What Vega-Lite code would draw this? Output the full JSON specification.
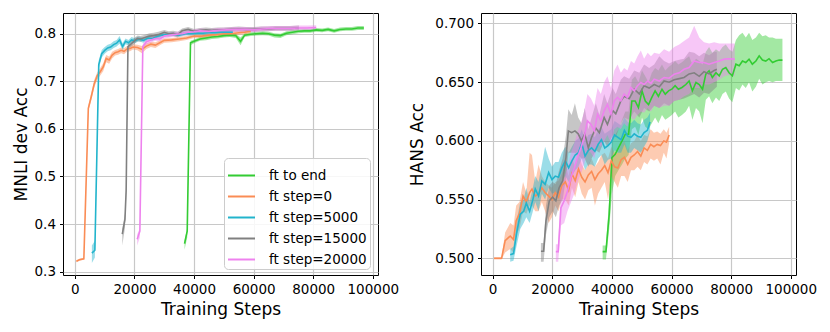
{
"$schema": "https://vega.github.io/schema/vega-lite/v6.json",
"padding": {"left": 11, "top": 12, "right": 5, "bottom": 5},
"config": {
  "font": "DejaVu Sans",
  "view": {"stroke": "black", "strokeWidth": 1},
  "axis": {"grid": true, "gridColor": "#c8c8c8", "gridWidth": 1.2, "domain": false, "tickColor": "black", "tickSize": 3.5, "tickWidth": 1, "labelFontSize": 13.5, "labelColor": "black", "labelPadding": 4, "titleFontSize": 17, "titleFontWeight": "normal", "titleColor": "black", "labelFlush": false, "labelOverlap": false}
},
"bounds": "flush",
"spacing": 103,
"datasets": {
"mnli": [
{"s":"ft to end","x":36800,"y":0.359,"lo":0.346,"hi":0.366},
{"s":"ft to end","x":37700,"y":0.385,"lo":0.372,"hi":0.392},
{"s":"ft to end","x":38800,"y":0.781,"lo":0.776,"hi":0.785},
{"s":"ft to end","x":40000,"y":0.784,"lo":0.780,"hi":0.788},
{"s":"ft to end","x":42000,"y":0.789,"lo":0.785,"hi":0.793},
{"s":"ft to end","x":44000,"y":0.791,"lo":0.786,"hi":0.795},
{"s":"ft to end","x":46000,"y":0.793,"lo":0.789,"hi":0.797},
{"s":"ft to end","x":48000,"y":0.794,"lo":0.790,"hi":0.798},
{"s":"ft to end","x":50000,"y":0.796,"lo":0.792,"hi":0.800},
{"s":"ft to end","x":52000,"y":0.797,"lo":0.793,"hi":0.801},
{"s":"ft to end","x":54000,"y":0.796,"lo":0.791,"hi":0.800},
{"s":"ft to end","x":55600,"y":0.784,"lo":0.776,"hi":0.792},
{"s":"ft to end","x":57000,"y":0.797,"lo":0.793,"hi":0.801},
{"s":"ft to end","x":59000,"y":0.799,"lo":0.795,"hi":0.803},
{"s":"ft to end","x":61000,"y":0.800,"lo":0.796,"hi":0.804},
{"s":"ft to end","x":63000,"y":0.801,"lo":0.797,"hi":0.805},
{"s":"ft to end","x":65000,"y":0.800,"lo":0.796,"hi":0.804},
{"s":"ft to end","x":67000,"y":0.797,"lo":0.792,"hi":0.801},
{"s":"ft to end","x":69000,"y":0.796,"lo":0.791,"hi":0.800},
{"s":"ft to end","x":71000,"y":0.801,"lo":0.797,"hi":0.805},
{"s":"ft to end","x":73000,"y":0.803,"lo":0.799,"hi":0.807},
{"s":"ft to end","x":75000,"y":0.805,"lo":0.801,"hi":0.809},
{"s":"ft to end","x":77000,"y":0.806,"lo":0.802,"hi":0.810},
{"s":"ft to end","x":79000,"y":0.806,"lo":0.802,"hi":0.810},
{"s":"ft to end","x":81000,"y":0.808,"lo":0.804,"hi":0.812},
{"s":"ft to end","x":83000,"y":0.807,"lo":0.803,"hi":0.811},
{"s":"ft to end","x":85000,"y":0.809,"lo":0.805,"hi":0.813},
{"s":"ft to end","x":87000,"y":0.806,"lo":0.802,"hi":0.810},
{"s":"ft to end","x":89000,"y":0.809,"lo":0.805,"hi":0.813},
{"s":"ft to end","x":91000,"y":0.810,"lo":0.806,"hi":0.814},
{"s":"ft to end","x":93000,"y":0.810,"lo":0.806,"hi":0.814},
{"s":"ft to end","x":95000,"y":0.812,"lo":0.808,"hi":0.816},
{"s":"ft to end","x":97000,"y":0.812,"lo":0.808,"hi":0.816},
{"s":"ft step=0","x":500,"y":0.322,"lo":0.320,"hi":0.324},
{"s":"ft step=0","x":1500,"y":0.325,"lo":0.323,"hi":0.327},
{"s":"ft step=0","x":3000,"y":0.327,"lo":0.325,"hi":0.329},
{"s":"ft step=0","x":4500,"y":0.643,"lo":0.637,"hi":0.649},
{"s":"ft step=0","x":5500,"y":0.668,"lo":0.660,"hi":0.676},
{"s":"ft step=0","x":6500,"y":0.695,"lo":0.687,"hi":0.703},
{"s":"ft step=0","x":7500,"y":0.712,"lo":0.704,"hi":0.719},
{"s":"ft step=0","x":8500,"y":0.720,"lo":0.712,"hi":0.728},
{"s":"ft step=0","x":9500,"y":0.730,"lo":0.721,"hi":0.738},
{"s":"ft step=0","x":10500,"y":0.748,"lo":0.740,"hi":0.755},
{"s":"ft step=0","x":11500,"y":0.745,"lo":0.737,"hi":0.752},
{"s":"ft step=0","x":12500,"y":0.755,"lo":0.748,"hi":0.762},
{"s":"ft step=0","x":13500,"y":0.760,"lo":0.754,"hi":0.766},
{"s":"ft step=0","x":14500,"y":0.762,"lo":0.756,"hi":0.768},
{"s":"ft step=0","x":15500,"y":0.765,"lo":0.759,"hi":0.771},
{"s":"ft step=0","x":16500,"y":0.763,"lo":0.757,"hi":0.770},
{"s":"ft step=0","x":17500,"y":0.768,"lo":0.762,"hi":0.774},
{"s":"ft step=0","x":18500,"y":0.769,"lo":0.763,"hi":0.775},
{"s":"ft step=0","x":19500,"y":0.772,"lo":0.767,"hi":0.778},
{"s":"ft step=0","x":21000,"y":0.771,"lo":0.765,"hi":0.777},
{"s":"ft step=0","x":22500,"y":0.767,"lo":0.759,"hi":0.774},
{"s":"ft step=0","x":24000,"y":0.774,"lo":0.768,"hi":0.780},
{"s":"ft step=0","x":25500,"y":0.778,"lo":0.772,"hi":0.783},
{"s":"ft step=0","x":27000,"y":0.776,"lo":0.770,"hi":0.782},
{"s":"ft step=0","x":28500,"y":0.781,"lo":0.776,"hi":0.786},
{"s":"ft step=0","x":30000,"y":0.786,"lo":0.781,"hi":0.790},
{"s":"ft step=0","x":32500,"y":0.787,"lo":0.782,"hi":0.791},
{"s":"ft step=0","x":35000,"y":0.789,"lo":0.784,"hi":0.793},
{"s":"ft step=0","x":37500,"y":0.791,"lo":0.787,"hi":0.795},
{"s":"ft step=0","x":40000,"y":0.795,"lo":0.791,"hi":0.799},
{"s":"ft step=0","x":42500,"y":0.795,"lo":0.791,"hi":0.799},
{"s":"ft step=0","x":45000,"y":0.797,"lo":0.793,"hi":0.801},
{"s":"ft step=0","x":47500,"y":0.798,"lo":0.794,"hi":0.802},
{"s":"ft step=0","x":50000,"y":0.800,"lo":0.796,"hi":0.804},
{"s":"ft step=0","x":52500,"y":0.800,"lo":0.796,"hi":0.804},
{"s":"ft step=0","x":55000,"y":0.802,"lo":0.798,"hi":0.806},
{"s":"ft step=0","x":57000,"y":0.803,"lo":0.799,"hi":0.807},
{"s":"ft step=0","x":59000,"y":0.805,"lo":0.801,"hi":0.809},
{"s":"ft step=5000","x":5700,"y":0.339,"lo":0.318,"hi":0.355},
{"s":"ft step=5000","x":6700,"y":0.345,"lo":0.330,"hi":0.365},
{"s":"ft step=5000","x":8000,"y":0.735,"lo":0.726,"hi":0.744},
{"s":"ft step=5000","x":9000,"y":0.758,"lo":0.750,"hi":0.766},
{"s":"ft step=5000","x":10000,"y":0.765,"lo":0.758,"hi":0.772},
{"s":"ft step=5000","x":11000,"y":0.770,"lo":0.763,"hi":0.777},
{"s":"ft step=5000","x":12000,"y":0.772,"lo":0.765,"hi":0.779},
{"s":"ft step=5000","x":13000,"y":0.777,"lo":0.770,"hi":0.784},
{"s":"ft step=5000","x":14000,"y":0.780,"lo":0.773,"hi":0.787},
{"s":"ft step=5000","x":15000,"y":0.787,"lo":0.779,"hi":0.795},
{"s":"ft step=5000","x":16000,"y":0.773,"lo":0.766,"hi":0.780},
{"s":"ft step=5000","x":17000,"y":0.784,"lo":0.778,"hi":0.790},
{"s":"ft step=5000","x":18000,"y":0.781,"lo":0.775,"hi":0.787},
{"s":"ft step=5000","x":19000,"y":0.787,"lo":0.781,"hi":0.793},
{"s":"ft step=5000","x":20000,"y":0.785,"lo":0.780,"hi":0.791},
{"s":"ft step=5000","x":21500,"y":0.789,"lo":0.784,"hi":0.794},
{"s":"ft step=5000","x":23000,"y":0.786,"lo":0.781,"hi":0.791},
{"s":"ft step=5000","x":24500,"y":0.791,"lo":0.786,"hi":0.796},
{"s":"ft step=5000","x":26000,"y":0.790,"lo":0.785,"hi":0.795},
{"s":"ft step=5000","x":27500,"y":0.794,"lo":0.789,"hi":0.799},
{"s":"ft step=5000","x":29000,"y":0.797,"lo":0.792,"hi":0.801},
{"s":"ft step=5000","x":31000,"y":0.798,"lo":0.794,"hi":0.802},
{"s":"ft step=5000","x":33000,"y":0.799,"lo":0.795,"hi":0.803},
{"s":"ft step=5000","x":35000,"y":0.797,"lo":0.793,"hi":0.801},
{"s":"ft step=5000","x":37000,"y":0.800,"lo":0.796,"hi":0.804},
{"s":"ft step=5000","x":39000,"y":0.800,"lo":0.796,"hi":0.804},
{"s":"ft step=5000","x":41000,"y":0.801,"lo":0.797,"hi":0.805},
{"s":"ft step=5000","x":43000,"y":0.801,"lo":0.797,"hi":0.805},
{"s":"ft step=5000","x":45000,"y":0.802,"lo":0.798,"hi":0.806},
{"s":"ft step=5000","x":47000,"y":0.802,"lo":0.798,"hi":0.806},
{"s":"ft step=5000","x":49000,"y":0.803,"lo":0.799,"hi":0.807},
{"s":"ft step=5000","x":51000,"y":0.803,"lo":0.799,"hi":0.807},
{"s":"ft step=5000","x":53000,"y":0.803,"lo":0.799,"hi":0.807},
{"s":"ft step=15000","x":15900,"y":0.379,"lo":0.355,"hi":0.390},
{"s":"ft step=15000","x":16800,"y":0.410,"lo":0.392,"hi":0.422},
{"s":"ft step=15000","x":17200,"y":0.470,"lo":0.455,"hi":0.485},
{"s":"ft step=15000","x":17800,"y":0.773,"lo":0.767,"hi":0.779},
{"s":"ft step=15000","x":19000,"y":0.779,"lo":0.773,"hi":0.785},
{"s":"ft step=15000","x":20000,"y":0.785,"lo":0.779,"hi":0.791},
{"s":"ft step=15000","x":21000,"y":0.790,"lo":0.784,"hi":0.796},
{"s":"ft step=15000","x":22000,"y":0.789,"lo":0.783,"hi":0.795},
{"s":"ft step=15000","x":23500,"y":0.792,"lo":0.786,"hi":0.798},
{"s":"ft step=15000","x":25000,"y":0.795,"lo":0.789,"hi":0.801},
{"s":"ft step=15000","x":26500,"y":0.796,"lo":0.790,"hi":0.802},
{"s":"ft step=15000","x":28000,"y":0.798,"lo":0.792,"hi":0.804},
{"s":"ft step=15000","x":30000,"y":0.803,"lo":0.797,"hi":0.808},
{"s":"ft step=15000","x":31500,"y":0.800,"lo":0.794,"hi":0.805},
{"s":"ft step=15000","x":33000,"y":0.801,"lo":0.795,"hi":0.806},
{"s":"ft step=15000","x":34500,"y":0.798,"lo":0.792,"hi":0.804},
{"s":"ft step=15000","x":36000,"y":0.806,"lo":0.801,"hi":0.811},
{"s":"ft step=15000","x":38000,"y":0.809,"lo":0.804,"hi":0.814},
{"s":"ft step=15000","x":40000,"y":0.805,"lo":0.800,"hi":0.810},
{"s":"ft step=15000","x":42000,"y":0.807,"lo":0.802,"hi":0.812},
{"s":"ft step=15000","x":44000,"y":0.808,"lo":0.803,"hi":0.813},
{"s":"ft step=15000","x":46000,"y":0.807,"lo":0.802,"hi":0.812},
{"s":"ft step=15000","x":48000,"y":0.808,"lo":0.803,"hi":0.813},
{"s":"ft step=15000","x":50000,"y":0.808,"lo":0.803,"hi":0.813},
{"s":"ft step=15000","x":52500,"y":0.809,"lo":0.804,"hi":0.814},
{"s":"ft step=15000","x":55000,"y":0.810,"lo":0.805,"hi":0.815},
{"s":"ft step=15000","x":57500,"y":0.809,"lo":0.804,"hi":0.814},
{"s":"ft step=15000","x":60000,"y":0.809,"lo":0.804,"hi":0.814},
{"s":"ft step=15000","x":62500,"y":0.810,"lo":0.805,"hi":0.815},
{"s":"ft step=15000","x":65000,"y":0.810,"lo":0.805,"hi":0.815},
{"s":"ft step=15000","x":67500,"y":0.811,"lo":0.806,"hi":0.816},
{"s":"ft step=15000","x":70000,"y":0.811,"lo":0.806,"hi":0.816},
{"s":"ft step=15000","x":72500,"y":0.811,"lo":0.806,"hi":0.816},
{"s":"ft step=15000","x":75200,"y":0.812,"lo":0.807,"hi":0.817},
{"s":"ft step=20000","x":20900,"y":0.368,"lo":0.355,"hi":0.378},
{"s":"ft step=20000","x":21800,"y":0.385,"lo":0.372,"hi":0.392},
{"s":"ft step=20000","x":22800,"y":0.773,"lo":0.767,"hi":0.779},
{"s":"ft step=20000","x":24000,"y":0.783,"lo":0.777,"hi":0.789},
{"s":"ft step=20000","x":25500,"y":0.787,"lo":0.781,"hi":0.793},
{"s":"ft step=20000","x":27000,"y":0.790,"lo":0.785,"hi":0.795},
{"s":"ft step=20000","x":28500,"y":0.789,"lo":0.784,"hi":0.794},
{"s":"ft step=20000","x":30000,"y":0.795,"lo":0.790,"hi":0.800},
{"s":"ft step=20000","x":32000,"y":0.797,"lo":0.792,"hi":0.802},
{"s":"ft step=20000","x":34000,"y":0.799,"lo":0.794,"hi":0.804},
{"s":"ft step=20000","x":36000,"y":0.800,"lo":0.795,"hi":0.805},
{"s":"ft step=20000","x":38000,"y":0.803,"lo":0.798,"hi":0.808},
{"s":"ft step=20000","x":40000,"y":0.804,"lo":0.799,"hi":0.809},
{"s":"ft step=20000","x":42000,"y":0.806,"lo":0.801,"hi":0.811},
{"s":"ft step=20000","x":45000,"y":0.805,"lo":0.800,"hi":0.810},
{"s":"ft step=20000","x":48000,"y":0.807,"lo":0.802,"hi":0.812},
{"s":"ft step=20000","x":51000,"y":0.808,"lo":0.803,"hi":0.813},
{"s":"ft step=20000","x":54000,"y":0.809,"lo":0.804,"hi":0.814},
{"s":"ft step=20000","x":57000,"y":0.809,"lo":0.804,"hi":0.814},
{"s":"ft step=20000","x":60000,"y":0.808,"lo":0.803,"hi":0.813},
{"s":"ft step=20000","x":63000,"y":0.810,"lo":0.805,"hi":0.815},
{"s":"ft step=20000","x":66000,"y":0.811,"lo":0.806,"hi":0.816},
{"s":"ft step=20000","x":69000,"y":0.811,"lo":0.806,"hi":0.816},
{"s":"ft step=20000","x":72000,"y":0.811,"lo":0.806,"hi":0.816},
{"s":"ft step=20000","x":75000,"y":0.812,"lo":0.807,"hi":0.817},
{"s":"ft step=20000","x":78000,"y":0.812,"lo":0.807,"hi":0.817},
{"s":"ft step=20000","x":81000,"y":0.813,"lo":0.808,"hi":0.818}
],
"hans": [
{"s":"ft to end","x":36900,"y":0.5057,"lo":0.499,"hi":0.511},
{"s":"ft to end","x":38000,"y":0.5057,"lo":0.499,"hi":0.511},
{"s":"ft to end","x":39100,"y":0.5375,"lo":0.525,"hi":0.550},
{"s":"ft to end","x":40000,"y":0.5858,"lo":0.555,"hi":0.600},
{"s":"ft to end","x":41100,"y":0.5886,"lo":0.570,"hi":0.605},
{"s":"ft to end","x":42200,"y":0.594,"lo":0.575,"hi":0.610},
{"s":"ft to end","x":43400,"y":0.600,"lo":0.580,"hi":0.618},
{"s":"ft to end","x":44500,"y":0.6057,"lo":0.585,"hi":0.625},
{"s":"ft to end","x":45600,"y":0.6057,"lo":0.588,"hi":0.625},
{"s":"ft to end","x":46700,"y":0.634,"lo":0.610,"hi":0.652},
{"s":"ft to end","x":47800,"y":0.634,"lo":0.612,"hi":0.655},
{"s":"ft to end","x":48900,"y":0.6284,"lo":0.605,"hi":0.650},
{"s":"ft to end","x":50100,"y":0.6426,"lo":0.620,"hi":0.660},
{"s":"ft to end","x":51200,"y":0.634,"lo":0.612,"hi":0.655},
{"s":"ft to end","x":52300,"y":0.631,"lo":0.610,"hi":0.650},
{"s":"ft to end","x":53400,"y":0.637,"lo":0.615,"hi":0.658},
{"s":"ft to end","x":54500,"y":0.6426,"lo":0.620,"hi":0.662},
{"s":"ft to end","x":55600,"y":0.638,"lo":0.615,"hi":0.660},
{"s":"ft to end","x":56800,"y":0.644,"lo":0.622,"hi":0.665},
{"s":"ft to end","x":57900,"y":0.6398,"lo":0.618,"hi":0.660},
{"s":"ft to end","x":59000,"y":0.6426,"lo":0.620,"hi":0.663},
{"s":"ft to end","x":60100,"y":0.644,"lo":0.622,"hi":0.665},
{"s":"ft to end","x":61200,"y":0.647,"lo":0.625,"hi":0.668},
{"s":"ft to end","x":62300,"y":0.644,"lo":0.620,"hi":0.665},
{"s":"ft to end","x":63500,"y":0.6455,"lo":0.622,"hi":0.667},
{"s":"ft to end","x":64800,"y":0.648,"lo":0.625,"hi":0.670},
{"s":"ft to end","x":65900,"y":0.651,"lo":0.630,"hi":0.672},
{"s":"ft to end","x":67000,"y":0.6426,"lo":0.618,"hi":0.665},
{"s":"ft to end","x":68200,"y":0.6497,"lo":0.628,"hi":0.670},
{"s":"ft to end","x":69300,"y":0.648,"lo":0.625,"hi":0.668},
{"s":"ft to end","x":70400,"y":0.644,"lo":0.615,"hi":0.665},
{"s":"ft to end","x":71500,"y":0.6568,"lo":0.635,"hi":0.676},
{"s":"ft to end","x":72600,"y":0.6597,"lo":0.638,"hi":0.680},
{"s":"ft to end","x":73700,"y":0.654,"lo":0.632,"hi":0.675},
{"s":"ft to end","x":74900,"y":0.658,"lo":0.637,"hi":0.678},
{"s":"ft to end","x":76000,"y":0.6554,"lo":0.634,"hi":0.676},
{"s":"ft to end","x":77100,"y":0.661,"lo":0.640,"hi":0.680},
{"s":"ft to end","x":78200,"y":0.6625,"lo":0.642,"hi":0.682},
{"s":"ft to end","x":79300,"y":0.658,"lo":0.636,"hi":0.678},
{"s":"ft to end","x":80400,"y":0.6554,"lo":0.633,"hi":0.676},
{"s":"ft to end","x":81600,"y":0.6653,"lo":0.645,"hi":0.686},
{"s":"ft to end","x":82700,"y":0.664,"lo":0.643,"hi":0.690},
{"s":"ft to end","x":83800,"y":0.668,"lo":0.648,"hi":0.692},
{"s":"ft to end","x":84900,"y":0.6668,"lo":0.645,"hi":0.688},
{"s":"ft to end","x":86000,"y":0.6696,"lo":0.650,"hi":0.692},
{"s":"ft to end","x":87100,"y":0.6653,"lo":0.642,"hi":0.686},
{"s":"ft to end","x":88300,"y":0.668,"lo":0.646,"hi":0.688},
{"s":"ft to end","x":89400,"y":0.6724,"lo":0.653,"hi":0.692},
{"s":"ft to end","x":90500,"y":0.6688,"lo":0.648,"hi":0.689},
{"s":"ft to end","x":91600,"y":0.668,"lo":0.650,"hi":0.690},
{"s":"ft to end","x":92700,"y":0.670,"lo":0.651,"hi":0.688},
{"s":"ft to end","x":93900,"y":0.6668,"lo":0.650,"hi":0.688},
{"s":"ft to end","x":95000,"y":0.668,"lo":0.651,"hi":0.687},
{"s":"ft to end","x":96100,"y":0.6688,"lo":0.651,"hi":0.687},
{"s":"ft to end","x":97200,"y":0.6688,"lo":0.651,"hi":0.687},
{"s":"ft step=0","x":500,"y":0.500,"lo":0.499,"hi":0.501},
{"s":"ft step=0","x":3000,"y":0.500,"lo":0.499,"hi":0.501},
{"s":"ft step=0","x":4200,"y":0.515,"lo":0.505,"hi":0.522},
{"s":"ft step=0","x":5900,"y":0.519,"lo":0.508,"hi":0.530},
{"s":"ft step=0","x":7000,"y":0.516,"lo":0.505,"hi":0.528},
{"s":"ft step=0","x":7900,"y":0.532,"lo":0.520,"hi":0.545},
{"s":"ft step=0","x":9000,"y":0.538,"lo":0.525,"hi":0.548},
{"s":"ft step=0","x":10200,"y":0.553,"lo":0.540,"hi":0.565},
{"s":"ft step=0","x":11300,"y":0.548,"lo":0.538,"hi":0.556},
{"s":"ft step=0","x":12400,"y":0.556,"lo":0.545,"hi":0.590},
{"s":"ft step=0","x":13200,"y":0.559,"lo":0.545,"hi":0.588},
{"s":"ft step=0","x":14300,"y":0.553,"lo":0.540,"hi":0.565},
{"s":"ft step=0","x":15400,"y":0.555,"lo":0.540,"hi":0.580},
{"s":"ft step=0","x":16500,"y":0.560,"lo":0.548,"hi":0.570},
{"s":"ft step=0","x":17600,"y":0.556,"lo":0.540,"hi":0.565},
{"s":"ft step=0","x":18800,"y":0.553,"lo":0.530,"hi":0.562},
{"s":"ft step=0","x":19900,"y":0.550,"lo":0.535,"hi":0.560},
{"s":"ft step=0","x":21000,"y":0.556,"lo":0.545,"hi":0.565},
{"s":"ft step=0","x":22100,"y":0.552,"lo":0.540,"hi":0.566},
{"s":"ft step=0","x":23200,"y":0.562,"lo":0.550,"hi":0.572},
{"s":"ft step=0","x":24400,"y":0.565,"lo":0.550,"hi":0.580},
{"s":"ft step=0","x":25500,"y":0.558,"lo":0.545,"hi":0.570},
{"s":"ft step=0","x":26600,"y":0.572,"lo":0.560,"hi":0.585},
{"s":"ft step=0","x":27700,"y":0.566,"lo":0.552,"hi":0.578},
{"s":"ft step=0","x":28800,"y":0.576,"lo":0.565,"hi":0.590},
{"s":"ft step=0","x":29900,"y":0.569,"lo":0.555,"hi":0.580},
{"s":"ft step=0","x":31000,"y":0.565,"lo":0.550,"hi":0.575},
{"s":"ft step=0","x":32100,"y":0.571,"lo":0.558,"hi":0.580},
{"s":"ft step=0","x":33200,"y":0.574,"lo":0.560,"hi":0.585},
{"s":"ft step=0","x":34300,"y":0.567,"lo":0.545,"hi":0.578},
{"s":"ft step=0","x":35400,"y":0.572,"lo":0.555,"hi":0.582},
{"s":"ft step=0","x":36500,"y":0.575,"lo":0.560,"hi":0.588},
{"s":"ft step=0","x":37600,"y":0.579,"lo":0.565,"hi":0.590},
{"s":"ft step=0","x":38700,"y":0.573,"lo":0.550,"hi":0.585},
{"s":"ft step=0","x":39800,"y":0.583,"lo":0.570,"hi":0.595},
{"s":"ft step=0","x":40900,"y":0.578,"lo":0.565,"hi":0.590},
{"s":"ft step=0","x":42000,"y":0.577,"lo":0.560,"hi":0.590},
{"s":"ft step=0","x":43100,"y":0.584,"lo":0.570,"hi":0.597},
{"s":"ft step=0","x":44200,"y":0.586,"lo":0.570,"hi":0.600},
{"s":"ft step=0","x":45300,"y":0.580,"lo":0.565,"hi":0.592},
{"s":"ft step=0","x":46400,"y":0.586,"lo":0.575,"hi":0.598},
{"s":"ft step=0","x":47500,"y":0.588,"lo":0.575,"hi":0.600},
{"s":"ft step=0","x":48600,"y":0.591,"lo":0.578,"hi":0.605},
{"s":"ft step=0","x":49700,"y":0.587,"lo":0.575,"hi":0.600},
{"s":"ft step=0","x":50800,"y":0.594,"lo":0.582,"hi":0.605},
{"s":"ft step=0","x":51900,"y":0.592,"lo":0.580,"hi":0.604},
{"s":"ft step=0","x":53000,"y":0.597,"lo":0.585,"hi":0.610},
{"s":"ft step=0","x":54100,"y":0.595,"lo":0.583,"hi":0.607},
{"s":"ft step=0","x":55200,"y":0.597,"lo":0.585,"hi":0.608},
{"s":"ft step=0","x":56300,"y":0.596,"lo":0.580,"hi":0.606},
{"s":"ft step=0","x":57400,"y":0.600,"lo":0.590,"hi":0.610},
{"s":"ft step=0","x":58300,"y":0.599,"lo":0.585,"hi":0.607},
{"s":"ft step=0","x":59200,"y":0.605,"lo":0.598,"hi":0.612},
{"s":"ft step=5000","x":5900,"y":0.503,"lo":0.497,"hi":0.508},
{"s":"ft step=5000","x":7000,"y":0.504,"lo":0.498,"hi":0.510},
{"s":"ft step=5000","x":8150,"y":0.523,"lo":0.512,"hi":0.533},
{"s":"ft step=5000","x":9270,"y":0.5375,"lo":0.525,"hi":0.548},
{"s":"ft step=5000","x":10400,"y":0.540,"lo":0.530,"hi":0.550},
{"s":"ft step=5000","x":11300,"y":0.547,"lo":0.535,"hi":0.560},
{"s":"ft step=5000","x":12400,"y":0.540,"lo":0.530,"hi":0.548},
{"s":"ft step=5000","x":13500,"y":0.550,"lo":0.540,"hi":0.560},
{"s":"ft step=5000","x":14300,"y":0.559,"lo":0.548,"hi":0.570},
{"s":"ft step=5000","x":15400,"y":0.553,"lo":0.540,"hi":0.565},
{"s":"ft step=5000","x":16500,"y":0.566,"lo":0.555,"hi":0.580},
{"s":"ft step=5000","x":17600,"y":0.563,"lo":0.550,"hi":0.595},
{"s":"ft step=5000","x":18800,"y":0.573,"lo":0.560,"hi":0.585},
{"s":"ft step=5000","x":19900,"y":0.567,"lo":0.555,"hi":0.578},
{"s":"ft step=5000","x":21000,"y":0.570,"lo":0.556,"hi":0.582},
{"s":"ft step=5000","x":22100,"y":0.569,"lo":0.555,"hi":0.582},
{"s":"ft step=5000","x":23200,"y":0.577,"lo":0.565,"hi":0.590},
{"s":"ft step=5000","x":24400,"y":0.583,"lo":0.570,"hi":0.595},
{"s":"ft step=5000","x":25500,"y":0.577,"lo":0.565,"hi":0.590},
{"s":"ft step=5000","x":26600,"y":0.583,"lo":0.570,"hi":0.595},
{"s":"ft step=5000","x":27700,"y":0.588,"lo":0.575,"hi":0.600},
{"s":"ft step=5000","x":28800,"y":0.590,"lo":0.578,"hi":0.602},
{"s":"ft step=5000","x":29900,"y":0.598,"lo":0.585,"hi":0.610},
{"s":"ft step=5000","x":31000,"y":0.587,"lo":0.575,"hi":0.600},
{"s":"ft step=5000","x":32100,"y":0.592,"lo":0.580,"hi":0.605},
{"s":"ft step=5000","x":33200,"y":0.594,"lo":0.580,"hi":0.606},
{"s":"ft step=5000","x":34300,"y":0.591,"lo":0.578,"hi":0.603},
{"s":"ft step=5000","x":35400,"y":0.597,"lo":0.585,"hi":0.610},
{"s":"ft step=5000","x":36500,"y":0.601,"lo":0.588,"hi":0.612},
{"s":"ft step=5000","x":37600,"y":0.594,"lo":0.580,"hi":0.606},
{"s":"ft step=5000","x":38700,"y":0.596,"lo":0.584,"hi":0.608},
{"s":"ft step=5000","x":39800,"y":0.599,"lo":0.585,"hi":0.610},
{"s":"ft step=5000","x":40900,"y":0.605,"lo":0.592,"hi":0.617},
{"s":"ft step=5000","x":42000,"y":0.603,"lo":0.590,"hi":0.615},
{"s":"ft step=5000","x":43100,"y":0.601,"lo":0.590,"hi":0.613},
{"s":"ft step=5000","x":44200,"y":0.609,"lo":0.597,"hi":0.620},
{"s":"ft step=5000","x":45300,"y":0.604,"lo":0.590,"hi":0.616},
{"s":"ft step=5000","x":46400,"y":0.603,"lo":0.590,"hi":0.615},
{"s":"ft step=5000","x":47500,"y":0.606,"lo":0.594,"hi":0.618},
{"s":"ft step=5000","x":48600,"y":0.604,"lo":0.592,"hi":0.615},
{"s":"ft step=5000","x":49700,"y":0.603,"lo":0.590,"hi":0.614},
{"s":"ft step=5000","x":50800,"y":0.607,"lo":0.595,"hi":0.618},
{"s":"ft step=5000","x":51900,"y":0.609,"lo":0.600,"hi":0.620},
{"s":"ft step=5000","x":52800,"y":0.616,"lo":0.608,"hi":0.624},
{"s":"ft step=15000","x":16200,"y":0.506,"lo":0.497,"hi":0.513},
{"s":"ft step=15000","x":17100,"y":0.506,"lo":0.497,"hi":0.513},
{"s":"ft step=15000","x":17900,"y":0.532,"lo":0.520,"hi":0.545},
{"s":"ft step=15000","x":19000,"y":0.549,"lo":0.535,"hi":0.562},
{"s":"ft step=15000","x":20100,"y":0.552,"lo":0.540,"hi":0.565},
{"s":"ft step=15000","x":21200,"y":0.549,"lo":0.535,"hi":0.563},
{"s":"ft step=15000","x":22300,"y":0.560,"lo":0.545,"hi":0.575},
{"s":"ft step=15000","x":23500,"y":0.566,"lo":0.550,"hi":0.585},
{"s":"ft step=15000","x":24600,"y":0.586,"lo":0.568,"hi":0.605},
{"s":"ft step=15000","x":25400,"y":0.6085,"lo":0.590,"hi":0.627},
{"s":"ft step=15000","x":26500,"y":0.607,"lo":0.590,"hi":0.622},
{"s":"ft step=15000","x":27600,"y":0.6085,"lo":0.590,"hi":0.632},
{"s":"ft step=15000","x":28700,"y":0.606,"lo":0.588,"hi":0.620},
{"s":"ft step=15000","x":29800,"y":0.600,"lo":0.585,"hi":0.615},
{"s":"ft step=15000","x":30900,"y":0.606,"lo":0.585,"hi":0.628},
{"s":"ft step=15000","x":32100,"y":0.594,"lo":0.578,"hi":0.610},
{"s":"ft step=15000","x":33200,"y":0.603,"lo":0.585,"hi":0.620},
{"s":"ft step=15000","x":34600,"y":0.611,"lo":0.592,"hi":0.632},
{"s":"ft step=15000","x":35800,"y":0.607,"lo":0.590,"hi":0.622},
{"s":"ft step=15000","x":37400,"y":0.620,"lo":0.600,"hi":0.640},
{"s":"ft step=15000","x":38500,"y":0.614,"lo":0.595,"hi":0.632},
{"s":"ft step=15000","x":40200,"y":0.626,"lo":0.605,"hi":0.645},
{"s":"ft step=15000","x":41300,"y":0.623,"lo":0.603,"hi":0.640},
{"s":"ft step=15000","x":43000,"y":0.634,"lo":0.615,"hi":0.652},
{"s":"ft step=15000","x":44100,"y":0.638,"lo":0.620,"hi":0.655},
{"s":"ft step=15000","x":45800,"y":0.636,"lo":0.618,"hi":0.653},
{"s":"ft step=15000","x":47500,"y":0.644,"lo":0.625,"hi":0.660},
{"s":"ft step=15000","x":49200,"y":0.640,"lo":0.620,"hi":0.658},
{"s":"ft step=15000","x":50800,"y":0.647,"lo":0.628,"hi":0.665},
{"s":"ft step=15000","x":52500,"y":0.645,"lo":0.625,"hi":0.662},
{"s":"ft step=15000","x":54200,"y":0.648,"lo":0.630,"hi":0.665},
{"s":"ft step=15000","x":55900,"y":0.646,"lo":0.628,"hi":0.672},
{"s":"ft step=15000","x":57500,"y":0.651,"lo":0.632,"hi":0.668},
{"s":"ft step=15000","x":59200,"y":0.650,"lo":0.630,"hi":0.666},
{"s":"ft step=15000","x":60900,"y":0.652,"lo":0.634,"hi":0.668},
{"s":"ft step=15000","x":62600,"y":0.653,"lo":0.635,"hi":0.669},
{"s":"ft step=15000","x":64200,"y":0.654,"lo":0.636,"hi":0.670},
{"s":"ft step=15000","x":65900,"y":0.657,"lo":0.638,"hi":0.676},
{"s":"ft step=15000","x":67600,"y":0.658,"lo":0.640,"hi":0.675},
{"s":"ft step=15000","x":69300,"y":0.655,"lo":0.637,"hi":0.672},
{"s":"ft step=15000","x":70900,"y":0.659,"lo":0.641,"hi":0.675},
{"s":"ft step=15000","x":72600,"y":0.657,"lo":0.640,"hi":0.673},
{"s":"ft step=15000","x":74300,"y":0.660,"lo":0.644,"hi":0.676},
{"s":"ft step=15000","x":75200,"y":0.661,"lo":0.646,"hi":0.676},
{"s":"ft step=20000","x":21200,"y":0.5057,"lo":0.497,"hi":0.512},
{"s":"ft step=20000","x":22000,"y":0.5057,"lo":0.497,"hi":0.512},
{"s":"ft step=20000","x":22900,"y":0.543,"lo":0.528,"hi":0.558},
{"s":"ft step=20000","x":24000,"y":0.549,"lo":0.530,"hi":0.568},
{"s":"ft step=20000","x":25100,"y":0.557,"lo":0.540,"hi":0.578},
{"s":"ft step=20000","x":26300,"y":0.569,"lo":0.548,"hi":0.590},
{"s":"ft step=20000","x":27400,"y":0.577,"lo":0.555,"hi":0.598},
{"s":"ft step=20000","x":28500,"y":0.586,"lo":0.565,"hi":0.608},
{"s":"ft step=20000","x":29600,"y":0.594,"lo":0.572,"hi":0.615},
{"s":"ft step=20000","x":30700,"y":0.6028,"lo":0.580,"hi":0.625},
{"s":"ft step=20000","x":31800,"y":0.617,"lo":0.592,"hi":0.640},
{"s":"ft step=20000","x":33000,"y":0.614,"lo":0.590,"hi":0.636},
{"s":"ft step=20000","x":34100,"y":0.6085,"lo":0.585,"hi":0.630},
{"s":"ft step=20000","x":35200,"y":0.6227,"lo":0.598,"hi":0.645},
{"s":"ft step=20000","x":36300,"y":0.617,"lo":0.595,"hi":0.640},
{"s":"ft step=20000","x":37400,"y":0.6256,"lo":0.600,"hi":0.650},
{"s":"ft step=20000","x":38500,"y":0.631,"lo":0.605,"hi":0.655},
{"s":"ft step=20000","x":39700,"y":0.6227,"lo":0.598,"hi":0.645},
{"s":"ft step=20000","x":40800,"y":0.634,"lo":0.610,"hi":0.660},
{"s":"ft step=20000","x":41900,"y":0.637,"lo":0.612,"hi":0.665},
{"s":"ft step=20000","x":43000,"y":0.634,"lo":0.610,"hi":0.658},
{"s":"ft step=20000","x":44100,"y":0.6398,"lo":0.615,"hi":0.662},
{"s":"ft step=20000","x":45200,"y":0.637,"lo":0.612,"hi":0.660},
{"s":"ft step=20000","x":46400,"y":0.6455,"lo":0.620,"hi":0.668},
{"s":"ft step=20000","x":47500,"y":0.6426,"lo":0.618,"hi":0.666},
{"s":"ft step=20000","x":48600,"y":0.647,"lo":0.622,"hi":0.672},
{"s":"ft step=20000","x":49700,"y":0.6497,"lo":0.625,"hi":0.677},
{"s":"ft step=20000","x":50800,"y":0.648,"lo":0.624,"hi":0.670},
{"s":"ft step=20000","x":52000,"y":0.651,"lo":0.628,"hi":0.675},
{"s":"ft step=20000","x":53100,"y":0.649,"lo":0.625,"hi":0.672},
{"s":"ft step=20000","x":54200,"y":0.6526,"lo":0.630,"hi":0.675},
{"s":"ft step=20000","x":55900,"y":0.651,"lo":0.628,"hi":0.674},
{"s":"ft step=20000","x":57500,"y":0.654,"lo":0.630,"hi":0.678},
{"s":"ft step=20000","x":59200,"y":0.6534,"lo":0.630,"hi":0.676},
{"s":"ft step=20000","x":60900,"y":0.6568,"lo":0.634,"hi":0.680},
{"s":"ft step=20000","x":62600,"y":0.658,"lo":0.635,"hi":0.682},
{"s":"ft step=20000","x":64200,"y":0.661,"lo":0.638,"hi":0.685},
{"s":"ft step=20000","x":65900,"y":0.6625,"lo":0.640,"hi":0.688},
{"s":"ft step=20000","x":67600,"y":0.668,"lo":0.645,"hi":0.698},
{"s":"ft step=20000","x":69300,"y":0.6668,"lo":0.645,"hi":0.688},
{"s":"ft step=20000","x":70900,"y":0.6668,"lo":0.648,"hi":0.684},
{"s":"ft step=20000","x":72600,"y":0.6653,"lo":0.648,"hi":0.683},
{"s":"ft step=20000","x":74300,"y":0.6668,"lo":0.650,"hi":0.684},
{"s":"ft step=20000","x":76000,"y":0.668,"lo":0.652,"hi":0.683},
{"s":"ft step=20000","x":77700,"y":0.6696,"lo":0.655,"hi":0.683},
{"s":"ft step=20000","x":79300,"y":0.670,"lo":0.656,"hi":0.683},
{"s":"ft step=20000","x":81200,"y":0.6696,"lo":0.655,"hi":0.683}
]
},
"hconcat": [
{
 "width": 315, "height": 262,
 "data": {"name": "mnli"},
 "encoding": {
   "x": {"field": "x", "type": "quantitative", "scale": {"domain": [-4000, 101750], "nice": false, "zero": false},
         "axis": {"title": "Training Steps", "values": [0, 20000, 40000, 60000, 80000, 100000], "format": "d", "titleBaseline": "alphabetic", "titleY": 39.5}},
   "color": {"field": "s", "type": "nominal", "sort": ["ft to end", "ft step=0", "ft step=5000", "ft step=15000", "ft step=20000"],
       "scale": {"domain": ["ft to end", "ft step=0", "ft step=5000", "ft step=15000", "ft step=20000"], "range": ["#33cc33", "#fa8c55", "#22b4cc", "#808080", "#ee82ee"]},
       "legend": {"title": null, "orient": "none", "legendX": 161, "legendY": 145, "symbolType": "stroke", "symbolSize": 729, "symbolStrokeWidth": 2, "symbolOpacity": 1, "labelFontSize": 13.5, "labelColor": "black", "labelOffset": 13, "rowPadding": -9, "padding": 3, "fillColor": "rgba(255,255,255,0.85)", "strokeColor": "#cccccc", "cornerRadius": 4}}
 },
 "layer": [
  {"mark": {"type": "area", "opacity": 0.45},
   "encoding": {
     "y": {"field": "lo", "type": "quantitative", "scale": {"domain": [0.293, 0.8435], "nice": false, "zero": false},
           "axis": {"title": "MNLI dev Acc", "values": [0.3, 0.4, 0.5, 0.6, 0.7, 0.8], "format": ".1f", "titleBaseline": "alphabetic", "titleX": -37, "titleY": 131}},
     "y2": {"field": "hi"}
   }},
  {"mark": {"type": "line", "strokeWidth": 1.6},
   "encoding": {
     "y": {"field": "y", "type": "quantitative"}
   }}
 ]
},
{
 "width": 315, "height": 262,
 "data": {"name": "hans"},
 "encoding": {
   "x": {"field": "x", "type": "quantitative", "scale": {"domain": [-3900, 101750], "nice": false, "zero": false},
         "axis": {"title": "Training Steps", "values": [0, 20000, 40000, 60000, 80000, 100000], "format": "d", "titleBaseline": "alphabetic", "titleY": 39.5}},
   "color": {"field": "s", "type": "nominal", "sort": ["ft to end", "ft step=0", "ft step=5000", "ft step=15000", "ft step=20000"], "legend": null}
 },
 "layer": [
  {"mark": {"type": "area", "opacity": 0.45},
   "encoding": {
     "y": {"field": "lo", "type": "quantitative", "scale": {"domain": [0.4858, 0.7089], "nice": false, "zero": false},
           "axis": {"title": "HANS Acc", "values": [0.5, 0.525, 0.55, 0.575, 0.6, 0.625, 0.65, 0.675, 0.7], "format": ".3f", "titleBaseline": "alphabetic", "titleX": -59, "titleY": 131}},
     "y2": {"field": "hi"}
   }},
  {"mark": {"type": "line", "strokeWidth": 1.6},
   "encoding": {
     "y": {"field": "y", "type": "quantitative"}
   }}
 ]
}
],
"resolve": {"legend": {"color": "independent"}}
}
